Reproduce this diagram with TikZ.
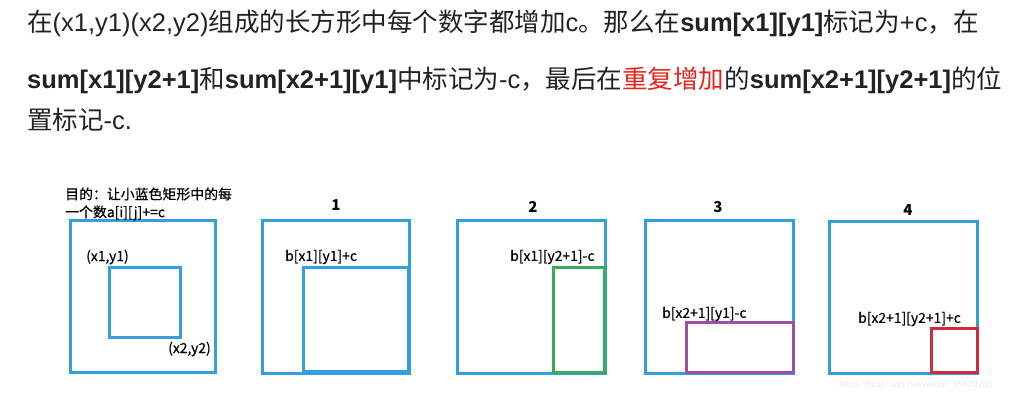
\documentclass[tikz,border=0pt]{standalone}
\usepackage{fontspec}
\setmainfont{Liberation Sans}
\newfontfamily\cjk{Noto Sans CJK SC}
\newfontfamily\cjklbl[FakeBold=0.5]{Noto Sans CJK SC}
\definecolor{boxblue}{RGB}{52,160,218}
\definecolor{boxgreen}{RGB}{58,170,92}
\definecolor{boxpurple}{RGB}{156,79,166}
\definecolor{boxred}{RGB}{208,42,60}
\definecolor{hired}{RGB}{232,35,26}
\definecolor{txt}{RGB}{34,34,34}
\tikzset{
  frame/.style={draw=#1, line width=3pt},
  head/.style={anchor=base west, inner sep=0pt, font=\fontsize{25.5}{30}\selectfont, text=txt},
  lbl/.style={anchor=west, inner sep=0pt, font=\cjklbl\fontsize{13.9}{16}\selectfont, text=black},
  num/.style={inner sep=0pt, font=\cjk\bfseries\fontsize{15}{18}\selectfont, text=black},
}
\begin{document}
\begin{tikzpicture}[x=1pt,y=-1pt]
\useasboundingbox (0,0) rectangle (1032,401);
% header
\node[head] (h1) at (27,32) {{\cjk 在}(x1,y1)(x2,y2){\cjk 组成的长方形中每个数字都增加}c{\cjk 。那么在}\textbf{sum[x1][y1]}{\cjk 标记为}+c{\cjk ，在}};
\node[head] (h2) at (27,89) {\textbf{sum[x1][y2+1]}{\cjk 和}\textbf{sum[x2+1][y1]}{\cjk 中标记为}-c{\cjk ，最后在}{\cjk\color{hired}重复增加}{\cjk 的}\textbf{sum[x2+1][y2+1]}{\cjk 的位}};
\node[head] (h3) at (27,129) {{\cjk 置标记}-c.};
% panel 0
\draw[frame=boxblue] (70,220) rectangle (215,372);
\draw[frame=boxblue] (109,267) rectangle (180,337);
\node[lbl] (g1) at (65,194) {目的：让小蓝色矩形中的每};
\node[lbl] (g2) at (65,213) {一个数a[i][j]+=c};
\node[lbl] (p1) at (86,257) {(x1,y1)};
\node[lbl] (p2) at (168,349) {(x2,y2)};
% panel 1
\draw[frame=boxblue] (262,220) rectangle (409,373);
\draw[frame=boxblue] (303,267) rectangle (408,371);
\node[num] (n1) at (336,205) {1};
\node[lbl] (l1) at (285,257) {b[x1][y1]+c};
% panel 2
\draw[frame=boxblue] (457,220) rectangle (605,373);
\draw[frame=boxgreen] (553,267) rectangle (604,372);
\node[num] (n2) at (533,207) {2};
\node[lbl] (l2) at (510,257) {b[x1][y2+1]-c};
% panel 3
\draw[frame=boxblue] (645,220) rectangle (793,373);
\draw[frame=boxpurple] (686,322) rectangle (793,372);
\node[num] (n3) at (718,207) {3};
\node[lbl] (l3) at (662,314) {b[x2+1][y1]-c};
% panel 4
\draw[frame=boxblue] (829,221) rectangle (977,373);
\draw[frame=boxred] (931,328) rectangle (977,372);
\node[num] (n4) at (908,210) {4};
\node[lbl] (l4) at (858,319) {b[x2+1][y2+1]+c};
\node[inner sep=0pt, font=\fontsize{9}{10}\selectfont, text=black!8] (wm) at (916,385) {https://blog.csdn.net/weixin\_45629285};
\end{tikzpicture}
\end{document}
